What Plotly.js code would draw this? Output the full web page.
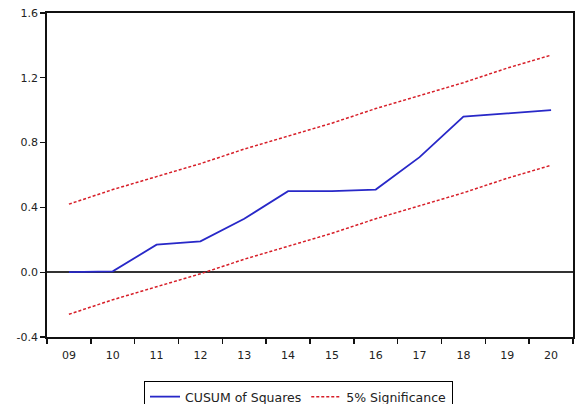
<!DOCTYPE html>
<html>
<head>
<meta charset="utf-8">
<script src="https://cdn.plot.ly/plotly-3.0.1.min.js"></script>
<style>html,body{margin:0;padding:0;background:#fff;}#chart{width:575px;height:404px;}</style>
</head>
<body>
<div id="chart"></div>
<script>
const years = [2009, 2010, 2011, 2012, 2013, 2014, 2015, 2016, 2017, 2018, 2019, 2020];
const yearLabels = ["09", "10", "11", "12", "13", "14", "15", "16", "17", "18", "19", "20"];
const cusumSq = [0.0, 0.005, 0.17, 0.19, 0.33, 0.50, 0.50, 0.51, 0.71, 0.96, 0.98, 1.0];
const upper5 = [0.42, 0.51, 0.59, 0.67, 0.76, 0.84, 0.92, 1.01, 1.09, 1.17, 1.26, 1.34];
const lower5 = [-0.26, -0.17, -0.09, -0.01, 0.08, 0.16, 0.24, 0.33, 0.41, 0.49, 0.58, 0.66];
const yTicks = [-0.4, 0.0, 0.4, 0.8, 1.2, 1.6];
const yTickLabels = ["-0.4", "0.0", "0.4", "0.8", "1.2", "1.6"];

const red = "rgb(215,30,40)";
const blue = "rgb(40,40,200)";

const traces = [
  {x: years, y: cusumSq, type: "scatter", mode: "lines", name: "CUSUM of Squares",
   line: {color: blue, width: 1.8}},
  {x: years, y: upper5, type: "scatter", mode: "lines", name: "5% Significance",
   legendgroup: "sig", line: {color: red, width: 1.5, dash: "3px,2px"}},
  {x: years, y: lower5, type: "scatter", mode: "lines", name: "5% Significance",
   legendgroup: "sig", showlegend: false, line: {color: red, width: 1.5, dash: "3px,2px"}}
];

const layout = {
  width: 575, height: 404,
  margin: {l: 47, r: 2, t: 13, b: 67, autoexpand: false},
  paper_bgcolor: "#fff", plot_bgcolor: "#fff",
  font: {family: "DejaVu Sans, sans-serif", size: 11, color: "#222"},
  showlegend: true,
  legend: {orientation: "h", xref: "container", yref: "container",
           x: 144 / 575, xanchor: "left", y: 1 - 381 / 404, yanchor: "top",
           bordercolor: "#000", borderwidth: 1, bgcolor: "#fff",
           font: {size: 12.5, color: "#222"}, traceorder: "normal", tracegroupgap: 0},
  xaxis: {
    range: [2008.5, 2020.5], tickmode: "array", tickvals: years, ticktext: yearLabels,
    ticks: "", showgrid: false, zeroline: false, ticklabelstandoff: 7,
    showline: true, linecolor: "#111", linewidth: 1.8, mirror: true,
    minor: {tickmode: "linear", tick0: 2008.5, dtick: 1, ticks: "outside", ticklen: 5,
            tickcolor: "#111", tickwidth: 1.5, showgrid: false}
  },
  yaxis: {
    range: [-0.4, 1.6], tickmode: "array", tickvals: yTicks, ticktext: yTickLabels,
    ticks: "outside", ticklen: 5, tickcolor: "#111", tickwidth: 1.2,
    showgrid: false, zeroline: true, zerolinecolor: "#333", zerolinewidth: 1.5,
    showline: true, linecolor: "#111", linewidth: 1.8, mirror: true
  }
};

Plotly.newPlot("chart", traces, layout, {displayModeBar: false, staticPlot: true});
</script>
</body>
</html>
